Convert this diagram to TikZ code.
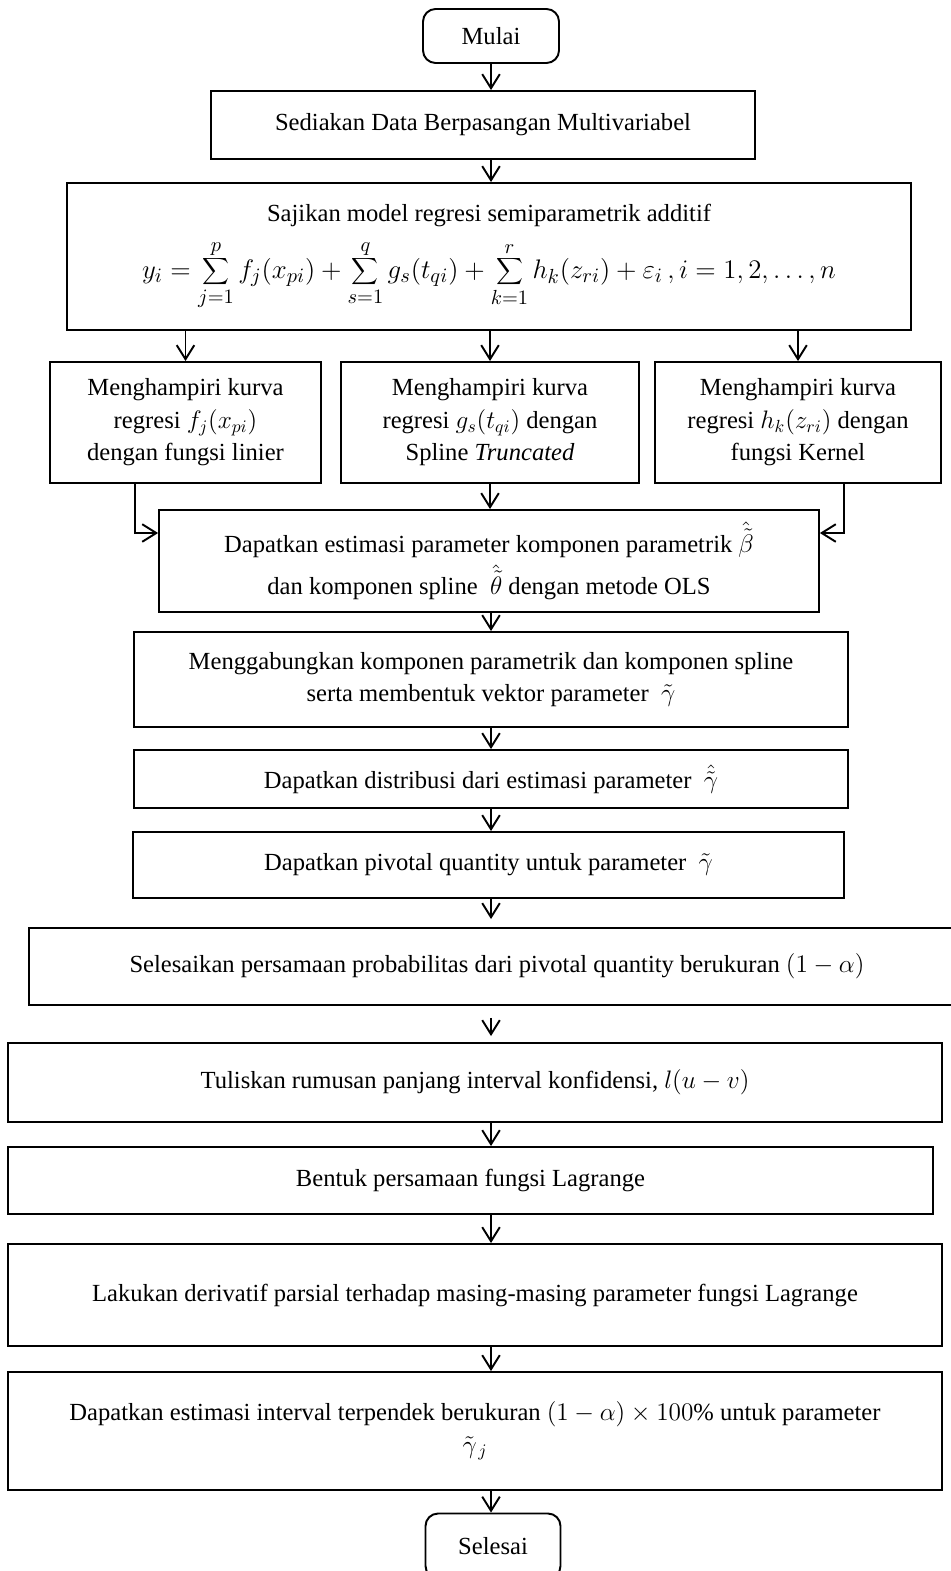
\documentclass[tikz,border=0pt]{standalone}
\usepackage{fontspec}
\setmainfont{Liberation Serif}
\usetikzlibrary{arrows.meta}

\begin{document}
\begin{tikzpicture}[x=0.02cm, y=-0.02cm,
    box/.style={draw, line width=1.1pt, align=center, inner sep=0pt, font=\fontsize{14}{18.5}\selectfont},
    ujung/.style={box, rounded corners=0.25cm},
    panah/.style={line width=1.1pt, -{Straight Barb[length=8pt,width=10pt]}}]
    \useasboundingbox (0,0) rectangle (950,1571);
    \coordinate (poros) at (491,0);

    % Mulai
    \node[ujung, minimum width=2.72cm, minimum height=1.08cm] (mulai) at (491,36) {Mulai};

    % Data dan model
    \node[box, minimum width=10.88cm, minimum height=1.36cm] (sediakan) at (483,125)
        {Sediakan Data Berpasangan Multivariabel};
    \node[box, minimum width=16.88cm, minimum height=2.94cm] (model) at (489,256.5)
        {Sajikan model regresi semiparametrik additif\\[7pt]
         \scalebox{1.06}{\fontsize{15.2}{18}\selectfont$\displaystyle y_i=\sum_{j=1}^{p} f_j\bigl(x_{pi}\bigr)+\sum_{s=1}^{q} g_s\bigl(t_{qi}\bigr)+\sum_{k=1}^{r} h_k(z_{ri})+\varepsilon_i\,, i=1,2,\ldots,n$}};

    % Tiga komponen
    \node[box, minimum width=5.42cm, minimum height=2.42cm] (kurvaf) at (185.5,422.5)
        {Menghampiri kurva\\ regresi $f_j\bigl(x_{pi}\bigr)$\\ dengan fungsi linier};
    \node[box, minimum width=5.96cm, minimum height=2.42cm] (kurvag) at (490,422.5)
        {Menghampiri kurva\\ regresi $g_s\bigl(t_{qi}\bigr)$ dengan\\ Spline \textit{Truncated}};
    \node[box, minimum width=5.72cm, minimum height=2.42cm] (kurvah) at (798,422.5)
        {Menghampiri kurva\\ regresi $h_k(z_{ri})$ dengan\\ fungsi Kernel};

    % Estimasi
    \node[box, minimum width=13.2cm, minimum height=2.04cm] (olsest) at (489,561)
        {Dapatkan estimasi parameter komponen parametrik $\hat{\tilde{\beta}}$\\[3pt]
         dan komponen spline~ $\hat{\tilde{\theta}}$ dengan metode OLS};
    \node[box, minimum width=14.28cm, minimum height=1.9cm] (gabung) at (491,679.5)
        {Menggabungkan komponen parametrik dan komponen spline\\
         serta membentuk vektor parameter~ $\tilde{\gamma}$};
    \node[box, minimum width=14.28cm, minimum height=1.16cm] (distr) at (491,779)
        {Dapatkan distribusi dari estimasi parameter~ $\hat{\tilde{\gamma}}$};
    \node[box, minimum width=14.22cm, minimum height=1.32cm] (pivot) at (488.5,865)
        {Dapatkan pivotal quantity untuk parameter~ $\tilde{\gamma}$};

    % Interval
    \node[box, minimum width=18.72cm, minimum height=1.54cm] (peluang) at (497,966.5)
        {Selesaikan persamaan probabilitas dari pivotal quantity berukuran $(1-\alpha)$};
    \node[box, minimum width=18.68cm, minimum height=1.58cm] (panjang) at (475,1082.5)
        {Tuliskan rumusan panjang interval konfidensi, $l(u-v)$};
    \node[box, minimum width=18.5cm, minimum height=1.34cm] (lagrange) at (470.5,1180.5)
        {Bentuk persamaan fungsi Lagrange};
    \node[box, minimum width=18.68cm, minimum height=2.04cm] (turunan) at (475,1295)
        {Lakukan derivatif parsial terhadap masing-masing parameter fungsi Lagrange};
    \node[box, minimum width=18.68cm, minimum height=2.36cm] (interval) at (475,1431)
        {Dapatkan estimasi interval terpendek berukuran $(1-\alpha)\times 100\%$ untuk parameter\\
         $\tilde{\gamma}_{\,j}$};

    % Selesai
    \node[ujung, minimum width=2.7cm, minimum height=1.3cm] (selesai) at (493,1546) {Selesai};

    % Panah
    \draw[panah] (mulai.south) -- (sediakan.north -| mulai);
    \draw[panah] (sediakan.south -| poros) -- (model.north -| poros);
    \draw[panah] (model.south -| kurvaf) -- (kurvaf.north);
    \draw[panah] (model.south -| kurvag) -- (kurvag.north);
    \draw[panah] (model.south -| kurvah) -- (kurvah.north);
    \draw[panah] (kurvag.south) -- (olsest.north -| kurvag);
    \draw[panah] ([xshift=-1.01cm]kurvaf.south) |- ([yshift=0.56cm]olsest.west);
    \draw[panah] ([xshift=0.92cm]kurvah.south) |- ([yshift=0.56cm]olsest.east);
    \draw[panah] (olsest.south -| poros) -- (gabung.north -| poros);
    \draw[panah] (gabung.south -| poros) -- (distr.north -| poros);
    \draw[panah] (distr.south -| poros) -- (pivot.north -| poros);
    \draw[panah, shorten >=0.16cm] (pivot.south -| poros) -- (peluang.north -| poros);
    \draw[panah, shorten <=0.24cm, shorten >=0.12cm] (peluang.south -| poros) -- (panjang.north -| poros);
    \draw[panah] (panjang.south -| poros) -- (lagrange.north -| poros);
    \draw[panah] (lagrange.south -| poros) -- (turunan.north -| poros);
    \draw[panah] (turunan.south -| poros) -- (interval.north -| poros);
    \draw[panah] (interval.south -| poros) -- (selesai.north -| poros);
\end{tikzpicture}
\end{document}
